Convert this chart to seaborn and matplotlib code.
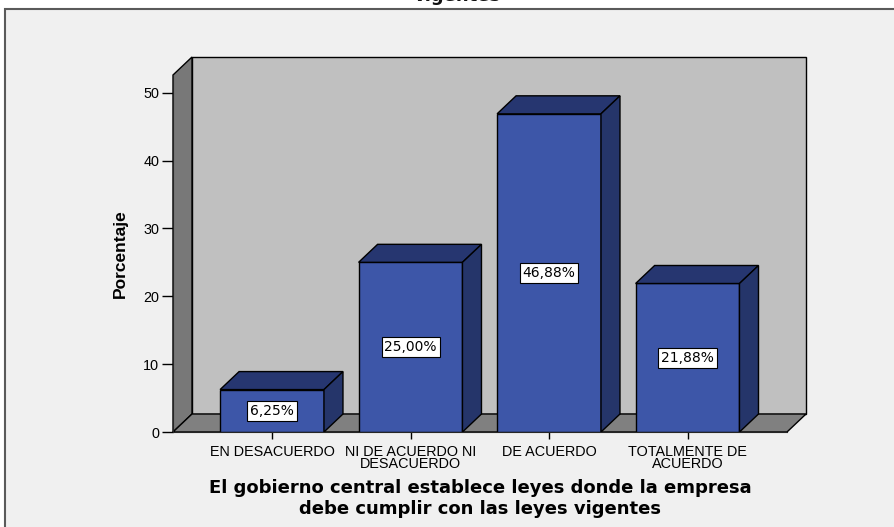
import matplotlib
import seaborn as sns
import pandas as pd

matplotlib.use("Agg")
import matplotlib.pyplot as plt
from matplotlib.patches import Polygon, Rectangle

# Data
categories = ["EN DESACUERDO", "NI DE ACUERDO NI\nDESACUERDO", "DE ACUERDO", "TOTALMENTE DE\nACUERDO"]
percentages = [6.25, 25.00, 46.88, 21.88]
y_ticks = [0, 10, 20, 30, 40, 50]

df = pd.DataFrame({"Categoria": categories, "Porcentaje": percentages})

sns.set_style("ticks")
plt.rcParams["font.family"] = ["Liberation Sans", "DejaVu Sans"]
plt.rcParams.update({"text.color": "black", "axes.labelcolor": "black",
                     "xtick.color": "black", "ytick.color": "black"})

W, H = 894, 527
fig = plt.figure(figsize=(W / 100, H / 100), dpi=100, facecolor="white")

# outer SPSS frame
fig.patches.append(Rectangle((5 / W, -0.1), 1.2, 1 - 9 / H + 0.1, transform=fig.transFigure,
                             facecolor="#f0f0f0", edgecolor="#5a5a5a", lw=1.5, zorder=-5))
# title is cut off at the top edge in the reference
fig.text(457 / W, 1 - 1 / H, "vigentes", ha="center", va="baseline",
         fontsize=13, fontweight="bold", family="DejaVu Sans", color="#111111")

ax = fig.add_axes([173 / W, (H - 432) / H, 614 / W, 357 / H])
ax.set_facecolor("none")

x_lo, x_hi = -0.715, 3.718
y_hi = 52.6

# depth offset (data units)
dx = 19 / (614 / (x_hi - x_lo))
dy = 18 / (357 / y_hi)

wall_kw = dict(edgecolor="black", lw=1.0, clip_on=False, zorder=0.5)
ax.add_patch(Polygon([(x_lo + dx, dy), (x_hi + dx, dy), (x_hi + dx, y_hi + dy), (x_lo + dx, y_hi + dy)],
                     facecolor="#c0c0c0", **wall_kw))
ax.add_patch(Polygon([(x_lo, 0), (x_lo + dx, dy), (x_lo + dx, y_hi + dy), (x_lo, y_hi)],
                     facecolor="#787878", **wall_kw))
ax.add_patch(Polygon([(x_lo, 0), (x_hi, 0), (x_hi + dx, dy), (x_lo + dx, dy)],
                     facecolor="#808080", **wall_kw))

sns.barplot(data=df, x="Categoria", y="Porcentaje", color="#3d56a8", saturation=1,
            width=0.75, edgecolor="black", linewidth=1.0, ax=ax, zorder=2)
ax.set_xlim(x_lo, x_hi)
ax.set_ylim(0, y_hi)

# 3D top and side faces + value boxes
for p, val in zip(ax.containers[0], percentages):
    x0, w, h = p.get_x(), p.get_width(), p.get_height()
    ax.add_patch(Polygon([(x0, h), (x0 + w, h), (x0 + w + dx, h + dy), (x0 + dx, h + dy)],
                         facecolor="#263670", edgecolor="black", lw=1.0, clip_on=False, zorder=2))
    ax.add_patch(Polygon([(x0 + w, 0), (x0 + w + dx, dy), (x0 + w + dx, h + dy), (x0 + w, h)],
                         facecolor="#25356a", edgecolor="black", lw=1.0, clip_on=False, zorder=2))
    ax.text(x0 + w / 2, h / 2, f"{val:.2f}%".replace(".", ","), ha="center", va="center",
            fontsize=10, family="DejaVu Sans", zorder=3,
            bbox=dict(boxstyle="square,pad=0.2", facecolor="white", edgecolor="black", lw=0.8))

sns.despine(ax=ax, top=True, right=True)
ax.spines["left"].set_bounds(0, y_hi)
ax.spines["left"].set_zorder(1)
ax.set_yticks(y_ticks)
ax.tick_params(axis="y", length=8, width=1, labelsize=10.4, pad=2, color="black")
ax.tick_params(axis="x", length=5, width=1, labelsize=10.4, pad=4, color="black")
for t in ax.get_xticklabels():
    t.set_linespacing(0.82)

ax.set_ylabel("Porcentaje", fontsize=12.5, fontweight="bold", labelpad=11)
ax.set_xlabel("El gobierno central establece leyes donde la empresa\ndebe cumplir con las leyes vigentes",
              fontsize=13, fontweight="bold", family="DejaVu Sans", labelpad=6, linespacing=1.22)

plt.savefig("out.png", dpi=100, facecolor="white")
